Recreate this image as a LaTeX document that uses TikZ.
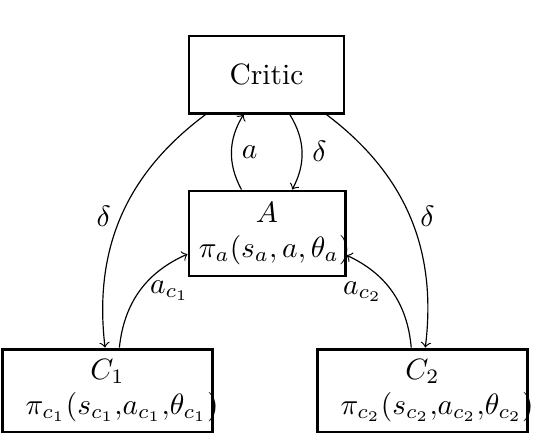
\documentclass[tikz,border=0pt]{standalone}
\usepackage{amsmath}
\usepackage{amssymb}
\usepackage{tikz}
\newcommand{\pixelsize}{0.34pt}

\begin{document}
\begin{tikzpicture}[x=\pixelsize,y=\pixelsize,
	agent/.style={draw, line width=1pt, align=center, inner sep=3.33pt}]
	\useasboundingbox (0,0) rectangle (534,434);

	\node[agent, minimum width=52.7pt, minimum height=26.2pt] (critic) at (266.5,359.5) {Critic};
	\node[agent, text width=46.4pt, minimum height=28.9pt] (actor) at (267,200.5) {$A$\\$\pi_a(s_a,a,\theta_a)$};
	\node[agent, text width=64.7pt, minimum height=28.2pt] (C1) at (107.5,43.5) {$C_1$\\\hspace*{4.5pt}$\pi_{c_1}(s_{c_1}{,}a_{c_1}{,}\theta_{c_1})$};
	\node[agent, text width=64.7pt, minimum height=28.2pt] (C2) at (422.5,43.5) {$C_2$\\\hspace*{4.5pt}$\pi_{c_2}(s_{c_2}{,}a_{c_2}{,}\theta_{c_2})$};

	\draw[->] (critic) to[bend right] node[left] {$\delta$} (C1);
	\draw[->] (critic) to[bend left] node[right] {$\delta$} (C2);
	\draw[->] (actor) to[bend left] node[right] {$a$} (critic);
	\draw[->] (critic) to[bend left] node[right] {$\delta$} (actor);
	\draw[->] (C1) to[bend left] node[right] {$a_{c_1}$} (actor);
	\draw[->] (C2) to[bend right] node[left] {$a_{c_2}$} (actor);
\end{tikzpicture}
\end{document}
